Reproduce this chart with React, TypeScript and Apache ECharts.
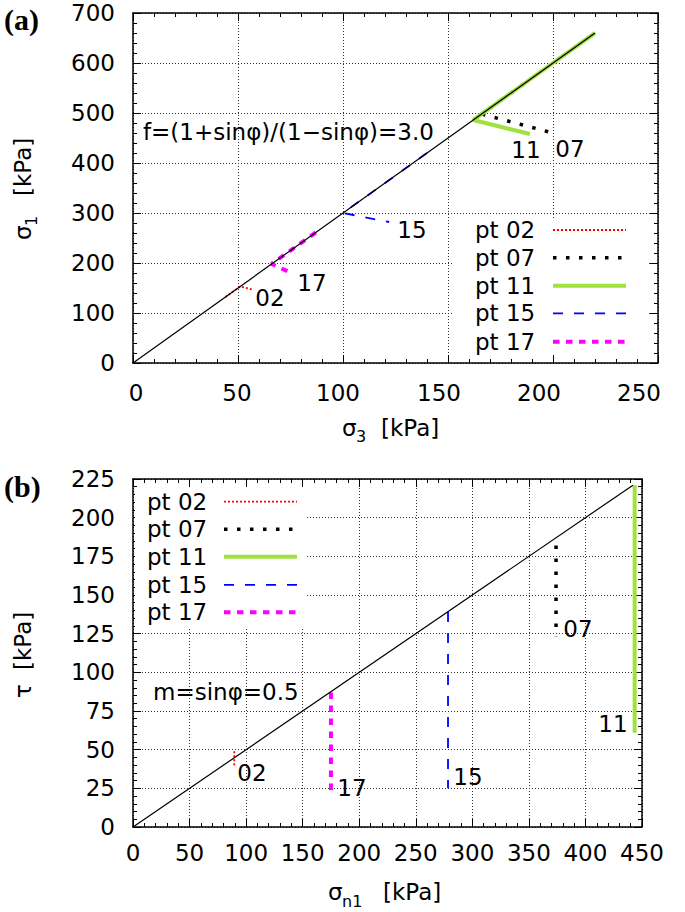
import React, { useEffect, useRef } from "react";
import * as echarts from "echarts";

// ---------- data (a): sigma3 vs sigma1 ----------
const A_X_TICKS = [0, 50, 100, 150, 200, 250];
const A_Y_TICKS = [0, 100, 200, 300, 400, 500, 600, 700];
const A_FAIL_LINE = [[0, 0], [220, 660]];
const A_PT02 = [[44, 132], [51, 153], [57, 147]];
const A_PT07 = [[186, 558], [166, 498], [199, 461]];
const A_PT11 = [[220, 660], [162, 486], [189, 458]];
const A_PT15 = [[140, 420], [100, 300], [122, 282]];
const A_PT17 = [[87, 261], [66, 198], [76, 179]];

// ---------- data (b): sigma_n1 vs tau ----------
const B_X_TICKS = [0, 50, 100, 150, 200, 250, 300, 350, 400, 450];
const B_Y_TICKS = [0, 25, 50, 75, 100, 125, 150, 175, 200, 225];
const B_FAIL_LINE = [[0, 0], [442, 221]];
const B_PT02 = [[89.5, 49], [89.5, 39]];
const B_PT07 = [[374, 182], [374, 123]];
const B_PT11 = [[443.5, 221], [443.5, 61]];
const B_PT15 = [[278.5, 139], [278.5, 25]];
const B_PT17 = [[175, 87], [175, 20]];

const LEGEND_NAMES = ["pt 02", "pt 07", "pt 11", "pt 15", "pt 17"];

// ---------- styles ----------
const FONT = '"DejaVu Sans", sans-serif';
const STY: Record<string, { color: string; width: number; dash: any }> = {
  "pt 02": { color: "#ff0000", width: 1.8, dash: [2, 2] },
  "pt 07": { color: "#000000", width: 3.5, dash: [3.5, 9.5] },
  "pt 11": { color: "#a0e040", width: 4, dash: "solid" },
  "pt 15": { color: "#0000ff", width: 1.8, dash: [10, 11] },
  "pt 17": { color: "#ff00ff", width: 4, dash: [6.5, 6.5] },
};
const TOP_X_LABEL_SHIFT = [3, -1, -5, -9, -14, -19];

function axis(gridIndex: number, ticks: number[], position: string, labels: any, grid: boolean) {
  const min = ticks[0];
  const max = ticks[ticks.length - 1];
  const interval = ticks[1] - ticks[0];
  return {
    type: "value",
    gridIndex,
    min,
    max,
    interval,
    position,
    axisLine: { show: true, onZero: false, lineStyle: { color: "#000", width: 1.5 } },
    axisTick: { show: true, inside: true, length: 8, lineStyle: { color: "#000", width: 1 } },
    minorTick: { show: true, splitNumber: 5, length: 4, lineStyle: { color: "#000", width: 1 } },
    splitLine: grid
      ? { show: true, lineStyle: { color: "#333", width: 1, type: [1, 2] } }
      : { show: false },
    axisLabel: labels ? labels : { show: false },
  };
}

function seriesFor(data: number[][], name: string, xi: number, yi: number) {
  const s = STY[name];
  return {
    type: "line",
    name,
    data,
    xAxisIndex: xi,
    yAxisIndex: yi,
    symbol: "none",
    silent: true,
    z: 3,
    lineStyle: { color: s.color, width: s.width, type: s.dash, cap: "butt" },
  };
}

function txt(text: string, x: number, y: number, size = 23, align = "center", extra: any = {}) {
  return {
    type: "text",
    x,
    y,
    z: 10,
    style: {
      text,
      font: `${size}px ${FONT}`,
      fill: "#000",
      align,
      verticalAlign: "middle",
      textAlign: align,
      textVerticalAlign: "middle",
      ...extra,
    },
  };
}

function legendBlock(textX: number, lineX1: number, lineX2: number, ys: number[]) {
  const els: any[] = [];
  LEGEND_NAMES.forEach((n, i) => {
    const s = STY[n];
    els.push(txt(n, textX, ys[i], 23, "left"));
    els.push({
      type: "line",
      z: 10,
      shape: { x1: lineX1, y1: ys[i], x2: lineX2, y2: ys[i] },
      style: {
        stroke: s.color,
        lineWidth: s.width,
        lineDash: s.dash === "solid" ? null : s.dash,
      },
    });
  });
  return els;
}

export default function App() {
  const ref = useRef<HTMLDivElement>(null);
  useEffect(() => {
    const chart = echarts.init(ref.current!, null, { renderer: "svg" });

    const lab = (margin: number, extra: any = {}) => ({
      show: true,
      margin,
      color: "#000",
      fontFamily: FONT,
      fontSize: 23,
      ...extra,
    });

    const tagStyle = (t: string) => ({
      text: t,
      font: 'bold 30px "Liberation Serif", serif',
      fill: "#000",
      align: "left",
      verticalAlign: "middle",
      textAlign: "left",
      textVerticalAlign: "middle",
    });

    const elements: any[] = [
      { type: "text", x: 4, y: 19, z: 10, style: tagStyle("(a)") },
      { type: "text", x: 4, y: 486, z: 10, style: tagStyle("(b)") },
      // legend backgrounds
      { type: "rect", z: 5, shape: { x: 453, y: 218, width: 196, height: 135 }, style: { fill: "#fff" } },
      { type: "rect", z: 5, shape: { x: 135, y: 487, width: 172, height: 140 }, style: { fill: "#fff" } },
      ...legendBlock(475, 553, 626, [230, 257.7, 285.7, 313.3, 341.7]),
      ...legendBlock(147, 224, 297, [501.7, 529.3, 556.8, 584.9, 612.3]),
      // annotations (a)
      txt("f=(1+sinφ)/(1−sinφ)=3.0", 143, 132, 23, "left"),
      txt("11", 526, 150),
      txt("07", 570, 149),
      txt("15", 412, 230),
      txt("17", 312, 283),
      txt("02", 270, 298),
      // annotations (b)
      txt("m=sinφ=0.5", 153, 692, 23, "left"),
      txt("02", 252, 773),
      txt("17", 352, 788),
      txt("15", 468, 777),
      txt("07", 578, 629),
      txt("11", 613, 724),
      // axis titles (a)
      {
        type: "group", x: 342, y: 428, z: 10,
        children: [
          txt("σ", 0, 0, 23, "left"),
          txt("3", 14, 8, 16, "left"),
          txt("[kPa]", 39, 0, 23, "left"),
        ],
      },
      {
        type: "group", x: 23, y: 240, rotation: Math.PI / 2, z: 10,
        children: [
          txt("σ", 0, 0, 23, "left"),
          txt("1", 14, 8, 16, "left"),
          txt("[kPa]", 44, 0, 23, "left"),
        ],
      },
      // axis titles (b)
      {
        type: "group", x: 328, y: 892, z: 10,
        children: [
          txt("σ", 0, 0, 23, "left"),
          txt("n1", 14, 9, 16, "left"),
          txt("[kPa]", 55, 0, 23, "left"),
        ],
      },
      {
        type: "group", x: 23, y: 698, rotation: Math.PI / 2, z: 10,
        children: [
          txt("τ", 0, 0, 23, "left"),
          txt("[kPa]", 28, 0, 23, "left"),
        ],
      },
    ];

    const option: any = {
      animation: false,
      backgroundColor: "#fff",
      grid: [
        { left: 133, top: 13, width: 525, height: 350, containLabel: false },
        { left: 133, top: 479, width: 509, height: 348, containLabel: false },
      ],
      xAxis: [
        axis(0, A_X_TICKS, "bottom", { show: false }, true),
        axis(0, A_X_TICKS, "top", null, false),
        axis(1, B_X_TICKS, "bottom", lab(14), true),
        axis(1, B_X_TICKS, "top", null, false),
      ],
      yAxis: [
        axis(0, A_Y_TICKS, "left", lab(18), true),
        axis(0, A_Y_TICKS, "right", null, false),
        axis(1, B_Y_TICKS, "left", lab(18), true),
        axis(1, B_Y_TICKS, "right", null, false),
      ],
      series: [
        seriesFor(A_PT02, "pt 02", 0, 0),
        seriesFor(A_PT07, "pt 07", 0, 0),
        seriesFor(A_PT11, "pt 11", 0, 0),
        seriesFor(A_PT15, "pt 15", 0, 0),
        seriesFor(A_PT17, "pt 17", 0, 0),
        {
          type: "line", data: A_FAIL_LINE, xAxisIndex: 0, yAxisIndex: 0, symbol: "none", silent: true, z: 4,
          lineStyle: { color: "#000", width: 1.2 },
        },
        seriesFor(B_PT02, "pt 02", 2, 2),
        seriesFor(B_PT07, "pt 07", 2, 2),
        seriesFor(B_PT11, "pt 11", 2, 2),
        seriesFor(B_PT15, "pt 15", 2, 2),
        seriesFor(B_PT17, "pt 17", 2, 2),
        {
          type: "line", data: B_FAIL_LINE, xAxisIndex: 2, yAxisIndex: 2, symbol: "none", silent: true, z: 4,
          lineStyle: { color: "#000", width: 1.2 },
        },
      ],
      graphic: { elements },
    };

    chart.setOption(option);

    // top-panel x tick labels, placed through the axis scale
    A_X_TICKS.forEach((v, i) => {
      const px = chart.convertToPixel({ xAxisIndex: 0 }, v) as number;
      elements.push(txt(String(v), px + TOP_X_LABEL_SHIFT[i], 393));
    });
    chart.setOption({ ...option, graphic: { elements } }, true);

    return () => chart.dispose();
  }, []);
  return (
    <div
      ref={ref}
      style={{ position: "fixed", left: 0, top: 0, width: 685, height: 912, background: "#fff" }}
    />
  );
}
